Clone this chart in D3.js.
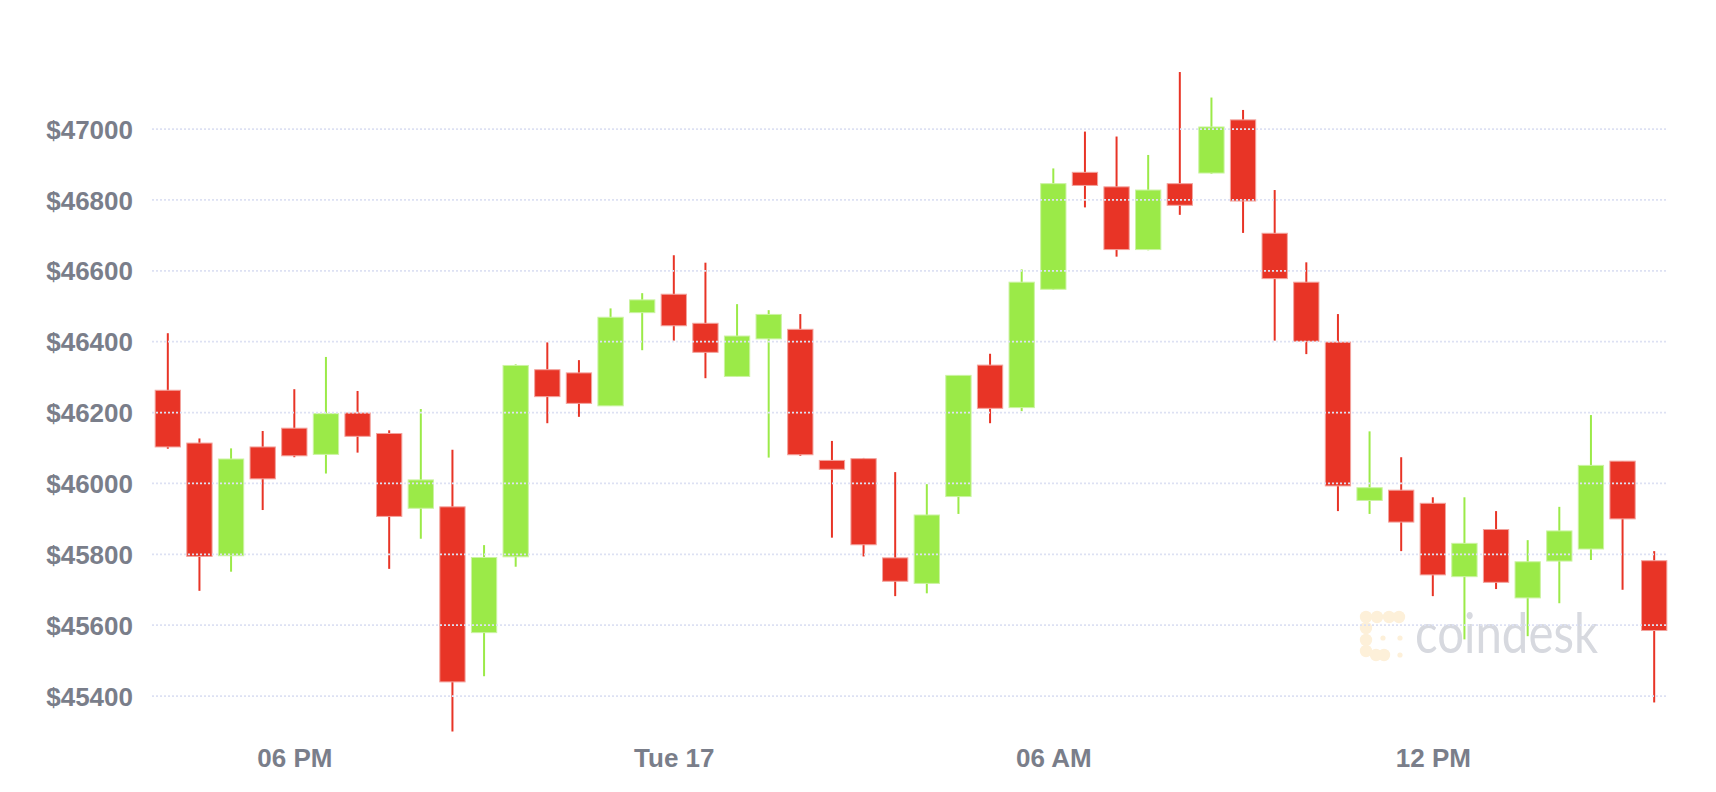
<!DOCTYPE html>
<html>
<head>
<meta charset="utf-8">
<script src="https://cdn.jsdelivr.net/npm/d3@7"></script>
<style>
  html, body { margin: 0; padding: 0; background: #ffffff; }
  svg { display: block; }
</style>
</head>
<body>
<svg id="chart" width="1716" height="792"></svg>
<script>
// ---- data (30-minute BTC candles) ----
const times = [
  "2021-08-16T16:00","2021-08-16T16:30","2021-08-16T17:00","2021-08-16T17:30",
  "2021-08-16T18:00","2021-08-16T18:30","2021-08-16T19:00","2021-08-16T19:30",
  "2021-08-16T20:00","2021-08-16T20:30","2021-08-16T21:00","2021-08-16T21:30",
  "2021-08-16T22:00","2021-08-16T22:30","2021-08-16T23:00","2021-08-16T23:30",
  "2021-08-17T00:00","2021-08-17T00:30","2021-08-17T01:00","2021-08-17T01:30",
  "2021-08-17T02:00","2021-08-17T02:30","2021-08-17T03:00","2021-08-17T03:30",
  "2021-08-17T04:00","2021-08-17T04:30","2021-08-17T05:00","2021-08-17T05:30",
  "2021-08-17T06:00","2021-08-17T06:30","2021-08-17T07:00","2021-08-17T07:30",
  "2021-08-17T08:00","2021-08-17T08:30","2021-08-17T09:00","2021-08-17T09:30",
  "2021-08-17T10:00","2021-08-17T10:30","2021-08-17T11:00","2021-08-17T11:30",
  "2021-08-17T12:00","2021-08-17T12:30","2021-08-17T13:00","2021-08-17T13:30",
  "2021-08-17T14:00","2021-08-17T14:30","2021-08-17T15:00","2021-08-17T15:30"
];
const opens = [46263,46114,45796,46103,46156,46082,46199,46141,45930,45934,45579,45793,
               46321,46312,46219,46482,46534,46452,46302,46408,46435,46065,46070,45790,
               45718,45963,46334,46214,46548,46878,46837,46660,46846,46876,47026,46706,
               46568,46399,45952,45981,45944,45737,45870,45677,45781,45815,46063,45782];
const highs = [46424,46127,46099,46148,46266,46357,46261,46150,46210,46095,45826,46336,
               46398,46348,46494,46537,46644,46623,46506,46489,46478,46120,46072,46032,
               45998,46305,46366,46604,46889,46993,46979,46927,47161,47089,47054,46828,
               46624,46478,46147,46074,45961,45961,45922,45840,45934,46193,46063,45809];
const lows  = [46098,45697,45751,45925,46074,46028,46087,45759,45844,45300,45456,45765,
               46170,46188,46219,46376,46403,46297,46301,46073,46078,45847,45794,45682,
               45690,45914,46170,46204,46546,46779,46640,46658,46758,46874,46707,46403,
               46365,45922,45914,45809,45682,45560,45702,45569,45662,45784,45700,45382];
const closes= [46103,45794,46069,46013,46078,46197,46133,45907,46010,45440,45791,46333,
               46245,46226,46469,46518,46445,46370,46416,46477,46081,46040,45827,45724,
               45911,46305,46212,46568,46846,46841,46660,46828,46785,47006,46797,46578,
               46401,45993,45988,45891,45742,45831,45721,45779,45866,46051,45900,45585];

const yTickValues = [45400,45600,45800,46000,46200,46400,46600,46800,47000];
const xTickTimes  = ["2021-08-16T18:00","2021-08-17T00:00","2021-08-17T06:00","2021-08-17T12:00"];
const xTickLabels = ["06 PM","Tue 17","06 AM","12 PM"];

// ---- setup ----
const parse = d3.timeParse("%Y-%m-%dT%H:%M");
const candles = times.map((t, i) => ({
  t: parse(t), o: opens[i], h: highs[i], l: lows[i], c: closes[i]
}));

const svg = d3.select("#chart");
const W = 1716, H = 792;
svg.append("rect").attr("width", W).attr("height", H).attr("fill", "#ffffff");

const half = 15 * 60 * 1000;
const x = d3.scaleTime()
  .domain([new Date(candles[0].t.getTime() - half), new Date(candles[candles.length - 1].t.getTime() + half)])
  .range([152, 1670]);
const y = d3.scaleLinear().domain([45280, 47180]).range([738.6, 65.3]);

const stepPx = x(new Date(candles[0].t.getTime() + 2 * half)) - x(candles[0].t);
const bodyW = stepPx * 0.8;

const RED = "#e83426", GREEN = "#9bea48";
const RED_EDGE = "#f3a39d", GREEN_EDGE = "#cbf3a2";

// ---- watermark ----
const wm = svg.append("g").attr("class", "watermark");
const logoColor = "#fdf0d9";
const blobs = [[1366,617],[1377,617],[1389,617],[1399,617],
               [1366,628],[1366,640],[1366,651],[1376,655],[1384,655]];
wm.selectAll("circle.blob").data(blobs).join("circle")
  .attr("class", "blob").attr("cx", d => d[0]).attr("cy", d => d[1]).attr("r", 6.2).attr("fill", logoColor);
wm.selectAll("circle.dot").data([[1383,638],[1400,638],[1400,655]]).join("circle")
  .attr("class", "dot").attr("cx", d => d[0]).attr("cy", d => d[1]).attr("r", 2.6).attr("fill", logoColor);
wm.append("text")
  .attr("x", 1415).attr("y", 653)
  .attr("font-family", "Lato, 'Open Sans', sans-serif")
  .attr("font-weight", 400)
  .attr("font-size", 56)
  .attr("textLength", 183)
  .attr("lengthAdjust", "spacingAndGlyphs")
  .attr("fill", "#d7d9df")
  .text("coindesk");

// ---- candles ----
const g = svg.append("g").attr("class", "candles");
const cg = g.selectAll("g.candle").data(candles).join("g").attr("class", "candle");
cg.append("line")
  .attr("x1", d => x(d.t)).attr("x2", d => x(d.t))
  .attr("y1", d => y(d.h)).attr("y2", d => y(d.l))
  .attr("stroke", d => d.c >= d.o ? GREEN : RED)
  .attr("stroke-width", 2);
cg.append("rect")
  .attr("x", d => x(d.t) - bodyW / 2)
  .attr("width", bodyW)
  .attr("y", d => y(Math.max(d.o, d.c)))
  .attr("height", d => Math.max(1, Math.abs(y(d.o) - y(d.c))))
  .attr("fill", d => d.c >= d.o ? GREEN : RED)
  .attr("stroke", d => d.c >= d.o ? GREEN_EDGE : RED_EDGE)
  .attr("stroke-width", 1);

// ---- gridlines (drawn over candles) ----
const yAxis = d3.axisLeft(y)
  .tickValues(yTickValues)
  .tickSize(0)
  .tickPadding(0)
  .tickFormat(v => "$" + v);
const yg = svg.append("g").attr("transform", "translate(133,0)").call(yAxis);
yg.select(".domain").remove();
yg.selectAll("text")
  .attr("x", 0)
  .attr("dy", "0.35em")
  .attr("font-family", "'Liberation Sans', Arial, Helvetica, sans-serif")
  .attr("font-weight", "bold")
  .attr("font-size", 26)
  .attr("fill", "#7a7e8a");

const grid = svg.append("g").attr("class", "grid");
grid.selectAll("line").data(yTickValues).join("line")
  .attr("x1", 152).attr("x2", 1668)
  .attr("y1", d => y(d)).attr("y2", d => y(d))
  .attr("stroke", "#dde1f3")
  .attr("stroke-width", 1.7)
  .attr("stroke-dasharray", "2,2");

// ---- x axis ----
const xAxis = d3.axisBottom(x)
  .tickValues(xTickTimes.map(parse))
  .tickSize(0)
  .tickPadding(0)
  .tickFormat((d, i) => xTickLabels[i]);
const xg = svg.append("g").attr("transform", "translate(0,767)").call(xAxis);
xg.select(".domain").remove();
xg.selectAll("text")
  .attr("y", 0)
  .attr("dy", 0)
  .attr("font-family", "'Liberation Sans', Arial, Helvetica, sans-serif")
  .attr("font-weight", "bold")
  .attr("font-size", 26)
  .attr("fill", "#7a7e8a");
</script>
</body>
</html>
